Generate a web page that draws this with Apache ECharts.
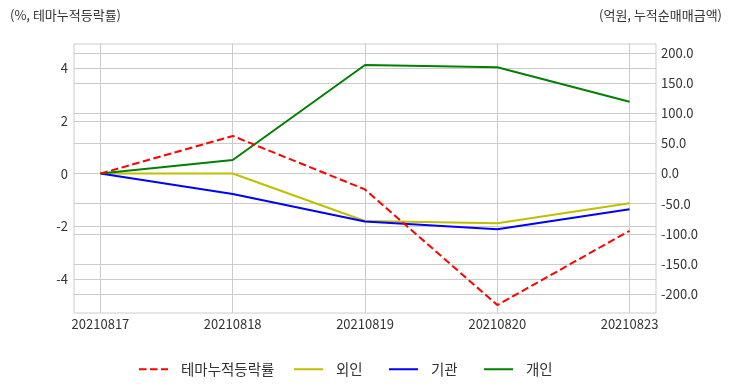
<!DOCTYPE html>
<html>
<head>
<meta charset="utf-8">
<script src="https://cdn.jsdelivr.net/npm/echarts@6/dist/echarts.min.js"></script>
<style>html,body{margin:0;padding:0;background:#fff}#c{width:732px;height:392px}</style>
</head>
<body>
<div id="c"></div>
<script>
const dates = ['20210817', '20210818', '20210819', '20210820', '20210823'];
const seriesNames = ['테마누적등락률', '외인', '기관', '개인'];
const themeReturn = [0, 1.43, -0.60, -4.99, -2.17];
const foreign = [0, 0, -78.8, -82.7, -49.5];
const institution = [0, -34, -79.5, -92.6, -59.4];
const individual = [0, 22.4, 180, 176.3, 119.2];
const leftTicks = [-4, -2, 0, 2, 4];
const rightTicks = [-200, -150, -100, -50, 0, 50, 100, 150, 200];
const xTicks = [0, 1, 2, 3, 4];

const FONT = '"Noto Sans CJK KR", "Noto Sans", sans-serif';
const TXT = '#333333';
const GRID = '#cccccc';
const pairs = arr => arr.map((v, i) => [i, v]);
const legendLeft = [133, 288, 383, 478];

const chart = echarts.init(document.getElementById('c'), null, {renderer: 'canvas'});
chart.setOption({
  animation: false,
  backgroundColor: '#ffffff',
  textStyle: {fontFamily: FONT},
  title: [
    {text: '(%, 테마누적등락률)', left: 5, top: 4, textStyle: {fontSize: 13, fontWeight: 'normal', color: TXT, fontFamily: FONT}},
    {text: '(억원, 누적순매매금액)', right: 5, top: 4, textStyle: {fontSize: 13, fontWeight: 'normal', color: TXT, fontFamily: FONT}}
  ],
  grid: {left: 74, right: 76, top: 44, bottom: 79, show: true, borderColor: GRID, borderWidth: 1, backgroundColor: 'transparent'},
  legend: seriesNames.map((n, i) => ({
    left: legendLeft[i], top: 357, itemWidth: 29, itemHeight: 14,
    itemStyle: {opacity: 0},
    textStyle: {fontSize: 14.5, color: TXT, fontFamily: FONT, padding: [0, 0, 0, 8]},
    data: [n]
  })),
  xAxis: {
    type: 'value', min: -0.2, max: 4.2,
    axisLine: {show: false},
    axisTick: {show: false, customValues: xTicks},
    axisLabel: {customValues: xTicks, formatter: v => dates[Math.round(v)], color: TXT, fontSize: 13, margin: 5, fontFamily: FONT},
    splitLine: {show: true, lineStyle: {color: GRID, width: 1}}
  },
  yAxis: [
    {
      type: 'value', min: -5.29, max: 4.92, position: 'left',
      axisLine: {show: false}, axisTick: {show: false, customValues: leftTicks},
      axisLabel: {customValues: leftTicks, color: TXT, fontSize: 13, margin: 6, fontFamily: FONT},
      splitLine: {show: true, lineStyle: {color: GRID, width: 1}}
    },
    {
      type: 'value', min: -231.5, max: 214.9, position: 'right',
      axisLine: {show: false}, axisTick: {show: false, customValues: rightTicks},
      axisLabel: {customValues: rightTicks, formatter: v => v.toFixed(1), color: TXT, fontSize: 13, margin: 5, fontFamily: FONT},
      splitLine: {show: true, lineStyle: {color: GRID, width: 1}}
    }
  ],
  series: [
    {name: seriesNames[0], type: 'line', yAxisIndex: 0, data: pairs(themeReturn), symbol: 'none', color: '#ff0000', lineStyle: {color: '#ff0000', width: 2, type: [7.5, 3.5]}, z: 4},
    {name: seriesNames[1], type: 'line', yAxisIndex: 1, data: pairs(foreign), symbol: 'none', color: '#bfbf00', lineStyle: {color: '#bfbf00', width: 2}, z: 3},
    {name: seriesNames[2], type: 'line', yAxisIndex: 1, data: pairs(institution), symbol: 'none', color: '#0000ff', lineStyle: {color: '#0000ff', width: 2}, z: 3},
    {name: seriesNames[3], type: 'line', yAxisIndex: 1, data: pairs(individual), symbol: 'none', color: '#008000', lineStyle: {color: '#008000', width: 2}, z: 3}
  ]
});
</script>
</body>
</html>
